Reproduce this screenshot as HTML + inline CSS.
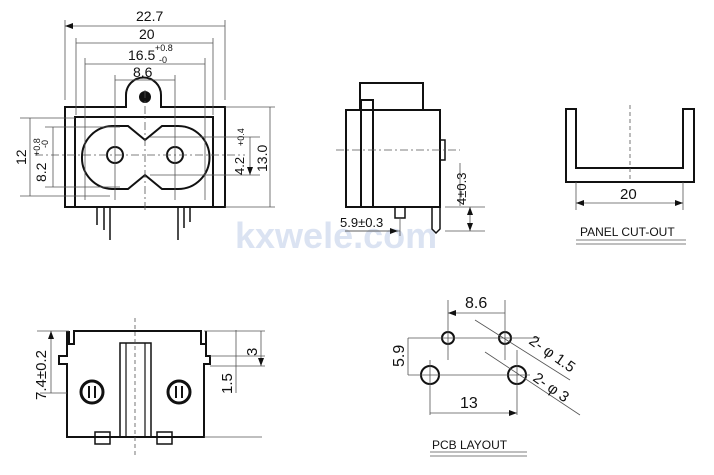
<!DOCTYPE html><html><head><style>body{margin:0;background:#fff}svg{display:block}text{font-family:"Liberation Sans",sans-serif;fill:#111}</style></head><body>
<svg width="714" height="475" viewBox="0 0 714 475" xmlns="http://www.w3.org/2000/svg">
<defs><marker id="a" markerWidth="8" markerHeight="6" refX="8" refY="3" orient="auto-start-reverse" markerUnits="userSpaceOnUse"><path d="M0,0L8,3L0,6z" fill="#111"/></marker></defs>
<text x="235" y="248" font-size="36" font-weight="bold" style="fill:#dbe3f2">kxwele.com</text>
<g fill="none" stroke="#111" stroke-width="2">
<path d="M65,207V107H126V95A17.5,17.5 0 0 1 161,95V107H225V207Z"/>
<path d="M75,207V117H213V207"/>
<path d="M82,157A31,31 0 0 1 112,126H128L145,140L162,126H178A31,31 0 0 1 178,189H162L145,175L128,189H112A31,31 0 0 1 82,157Z"/>
<circle cx="115" cy="155" r="8"/><circle cx="175" cy="155" r="8"/>
<path d="M97,207V225M104,207V230M110,207V240M178,207V240M184,207V228M190,207V222" stroke-width="1.5"/>
</g>
<circle cx="145" cy="97" r="6" fill="#111"/>
<g stroke="#555" stroke-width="0.8" fill="none">
<path d="M65,20V100M225,20V100M76,38V115M213,38V115M85,58V200M205,58V200M115,75V200M175,75V200"/>
<path d="M20,118H75M20,196H110M45,127H120M45,187H120M225,107H275M225,207H275M150,137H260M150,175H260"/>
<path d="M35,155H245M145,90V212" stroke-dasharray="8,3,2,3"/>
<path d="M65,26H225M76,43H213M85,64H205M115,80H175M30,118V196M53,127V187M270,107V207M250,137V175" marker-start="url(#a)" marker-end="url(#a)"/>
</g>
<g font-size="14"><text x="136" y="21">22.7</text><text x="139" y="39">20</text><text x="128" y="60">16.5</text><text x="155" y="51" font-size="9">+0.8</text><text x="159" y="63" font-size="9">-0</text><text x="133" y="77">8.6</text></g>
<text transform="translate(26,165) rotate(-90)" font-size="14">12</text>
<text transform="translate(46,182) rotate(-90)" font-size="14">8.2</text>
<text transform="translate(40,156) rotate(-90)" font-size="9">+0.8</text>
<text transform="translate(48,148) rotate(-90)" font-size="9">-0</text>
<text transform="translate(244,175) rotate(-90)" font-size="13">4.2</text>
<text transform="translate(244,146) rotate(-90)" font-size="9">+0.4</text>
<text transform="translate(267,172) rotate(-90)" font-size="14">13.0</text>
<g fill="none" stroke="#111" stroke-width="2">
<rect x="360" y="83" width="63" height="27"/><rect x="346" y="110" width="15" height="97"/><rect x="361" y="100" width="12" height="107"/><rect x="373" y="110" width="67" height="97"/><rect x="440" y="140" width="5" height="20" stroke-width="1.5"/>
<rect x="395" y="207" width="10" height="11" stroke-width="1.5"/><path d="M432,207V229L436,233L440,229V207" stroke-width="1.5"/>
</g>
<g stroke="#555" stroke-width="0.8" fill="none"><path d="M336,150H460" stroke-dasharray="8,3,2,3"/><path d="M445,207H485M445,231H485M400,218V236M345,231H400M460,163V206"/><path d="M470,207V231" marker-start="url(#a)" marker-end="url(#a)"/><path d="M345,231H398" marker-end="url(#a)"/></g>
<text transform="translate(466,205) rotate(-90)" font-size="13">4±0.3</text>
<text x="340" y="227" font-size="13">5.9±0.3</text>
<path d="M566,109H576V168H683V109H694V182H566Z" fill="none" stroke="#111" stroke-width="2"/>
<g stroke="#555" stroke-width="0.8" fill="none"><path d="M630,105V182" stroke-dasharray="4,3"/><path d="M576,182V210M683,182V210"/><path d="M576,203H683" marker-start="url(#a)" marker-end="url(#a)"/><path d="M576,240H686M576,244H686"/></g>
<text x="620" y="199" font-size="15">20</text><text x="580" y="236" font-size="12">PANEL CUT-OUT</text>
<g fill="none" stroke="#111" stroke-width="2">
<path d="M69,331V344H74V331H201V344H206V331V356H210V364H204V437H67V364H59V356H67V331"/>
<rect x="120" y="343" width="31" height="94" stroke-width="1.5"/><path d="M126,343V437M145,343V437" stroke-width="1.2"/>
<circle cx="92" cy="392" r="11" stroke-width="3"/><circle cx="179" cy="392" r="11" stroke-width="3"/>
<rect x="95" y="432" width="15" height="12" stroke-width="1.5"/><rect x="157" y="432" width="15" height="12" stroke-width="1.5"/>
</g>
<g stroke="#111" stroke-width="2"><path d="M89,386V398M95,386V398M176,386V398M182,386V398"/></g>
<g stroke="#555" stroke-width="0.8" fill="none"><path d="M135,318V455" stroke-dasharray="4,3"/><path d="M37,331H69M40,393H67M204,331H265M210,356H265M210,366H265M204,437H262M236,330V393"/><path d="M51,331V393M261,331V366" marker-start="url(#a)" marker-end="url(#a)"/></g>
<text transform="translate(46,400) rotate(-90)" font-size="15">7.4±0.2</text>
<text transform="translate(257,356) rotate(-90)" font-size="15">3</text>
<text transform="translate(232,394) rotate(-90)" font-size="15">1.5</text>
<g fill="none" stroke="#111" stroke-width="2"><circle cx="448" cy="338" r="6"/><circle cx="505" cy="338" r="6"/><circle cx="430" cy="375" r="9"/><circle cx="517" cy="375" r="9"/></g>
<g stroke="#555" stroke-width="0.8" fill="none"><path d="M448,300V360M505,300V360M408,338H540M408,375H530M430,360V415M517,350V415M475,320L570,380M485,352L580,415"/><path d="M448,313H505M408,338V375M430,413H517" marker-start="url(#a)" marker-end="url(#a)"/><path d="M430,452H527M430,456H527"/></g>
<text x="465" y="308" font-size="16">8.6</text><text transform="translate(404,367) rotate(-90)" font-size="16">5.9</text><text x="460" y="408" font-size="16">13</text>
<text transform="translate(528,343) rotate(35)" font-size="15">2- φ 1.5</text>
<text transform="translate(532,380) rotate(35)" font-size="15">2- φ 3</text>
<text x="432" y="449" font-size="12">PCB LAYOUT</text>
</svg></body></html>
